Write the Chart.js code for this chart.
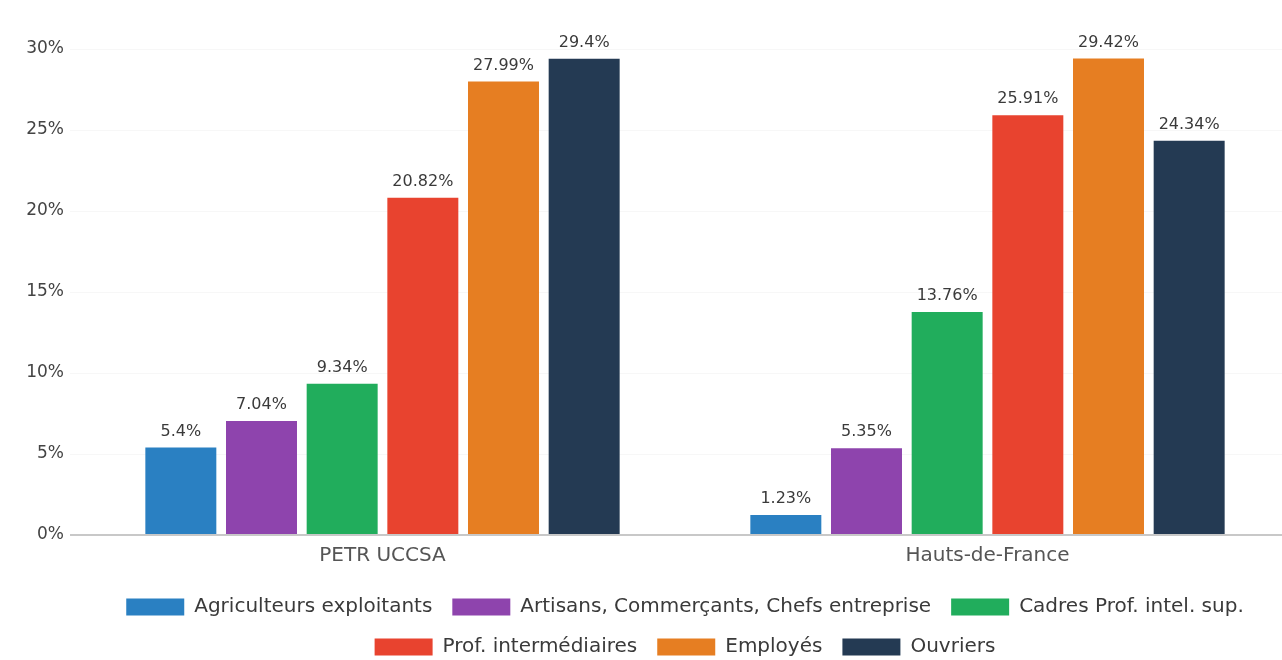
<!DOCTYPE html>
<html>
<head>
<meta charset="utf-8">
<script src="https://cdn.jsdelivr.net/npm/chart.js@4"></script>
<style>
  html, body { margin: 0; padding: 0; background: #fff; overflow: hidden; }
</style>
</head>
<body>
<canvas id="csp_chart" width="1300" height="667"></canvas>
<script>
const territoires = ['PETR UCCSA', 'Hauts-de-France'];

const agriculteurs = [5.4, 1.23];
const artisans = [7.04, 5.35];
const cadres = [9.34, 13.76];
const profInter = [20.82, 25.91];
const employes = [27.99, 29.42];
const ouvriers = [29.4, 24.34];

const yTicks = [0, 5, 10, 15, 20, 25, 30];

// labels above each bar
const valueLabels = {
  id: 'valueLabels',
  afterDatasetsDraw(chart) {
    const ctx = chart.ctx;
    ctx.save();
    ctx.font = '16px "DejaVu Sans"';
    ctx.fillStyle = '#3a3a3a';
    ctx.textAlign = 'center';
    ctx.textBaseline = 'bottom';
    chart.data.datasets.forEach((ds, i) => {
      chart.getDatasetMeta(i).data.forEach((bar, j) => {
        ctx.fillText(ds.data[j] + '%', bar.x, bar.y - 8);
      });
    });
    ctx.restore();
  }
};

const ctx = document.getElementById('csp_chart').getContext('2d');

new Chart(ctx, {
  type: 'bar',
  data: {
    labels: territoires,
    datasets: [
      { label: 'Agriculteurs exploitants', data: agriculteurs, backgroundColor: '#2a80c2' },
      { label: 'Artisans, Commerçants, Chefs entreprise', data: artisans, backgroundColor: '#8e44ad' },
      { label: 'Cadres Prof. intel. sup.', data: cadres, backgroundColor: '#21ad5c' },
      { label: 'Prof. intermédiaires', data: profInter, backgroundColor: '#e8432f' },
      { label: 'Employés', data: employes, backgroundColor: '#e67e22' },
      { label: 'Ouvriers', data: ouvriers, backgroundColor: '#243a53' }
    ]
  },
  options: {
    responsive: false,
    animation: false,
    categoryPercentage: 0.8,
    barPercentage: 0.88,
    layout: {
      padding: { top: 49, right: 10, left: 0, bottom: 0 }
    },
    plugins: {
      tooltip: { enabled: false },
      legend: {
        position: 'bottom',
        fullSize: false,
        labels: {
          color: '#3a3a3a',
          boxWidth: 58,
          boxHeight: 17,
          padding: 20,
          font: { family: 'DejaVu Sans', size: 20 }
        }
      }
    },
    scales: {
      x: {
        grid: { display: false, drawTicks: false },
        border: { display: false },
        ticks: {
          color: '#555',
          padding: 9,
          font: { family: 'DejaVu Sans', size: 20 }
        }
      },
      y: {
        min: 0,
        max: 30,
        afterFit: s => { s.width = 80; },
        afterBuildTicks: s => { s.ticks = yTicks.map(v => ({ value: v })); },
        border: { display: false },
        grid: {
          tickLength: 10,
          color: c => c.tick.value === 0 ? '#c8c8c8' : 'rgba(0,0,0,0.03)',
          lineWidth: c => c.tick.value === 0 ? 2 : 1
        },
        ticks: {
          color: '#444',
          padding: 6,
          font: { family: 'DejaVu Sans', size: 17 },
          callback: v => v + '%'
        }
      }
    }
  },
  plugins: [valueLabels]
});
</script>
</body>
</html>
